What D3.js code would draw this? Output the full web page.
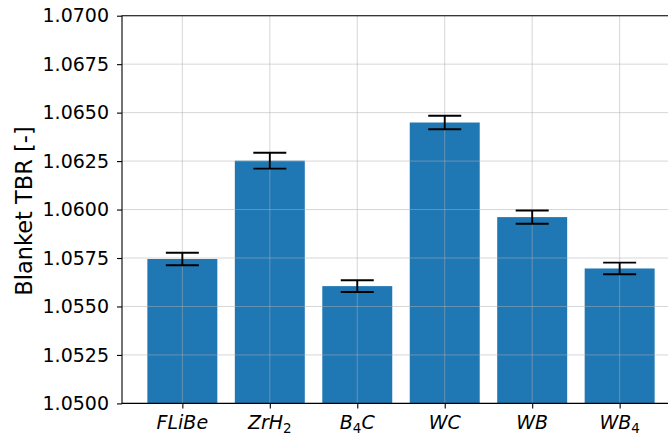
<!DOCTYPE html>
<html>
<head>
<meta charset="utf-8">
<script src="https://cdn.jsdelivr.net/npm/d3@7"></script>
<style>
  body { margin: 0; background: #fff; }
  text { font-family: "DejaVu Sans", sans-serif; fill: #000; }
</style>
</head>
<body>
<svg id="chart" width="668" height="437"></svg>
<script>
// materials, label parts (base + subscript) and TBR values
const materials = ["FLiBe", "ZrH2", "B4C", "WC", "WB", "WB4"];
const labelParts = [
    [["FLiBe", false]],
    [["ZrH", false], ["2", true]],
    [["B", false], ["4", true], ["C", false]],
    [["WC", false]],
    [["WB", false]],
    [["WB", false], ["4", true]]
];
const tbr = [1.05745, 1.06252, 1.05605, 1.06449, 1.05961, 1.05696];
const tbrErr = [0.00032, 0.00041, 0.00030, 0.00035, 0.00034, 0.00030];
const yTicks = [1.05, 1.0525, 1.055, 1.0575, 1.06, 1.0625, 1.065, 1.0675, 1.07];

const svg = d3.select("#chart");
const plotL = 122, plotR = 680, plotT = 15.7, plotB = 403.4;

const x = d3.scalePoint()
    .domain(materials)
    .range([plotL, plotR])
    .padding(0.69);
const barW = x.step() * 0.8;

const y = d3.scaleLinear()
    .domain([1.05, 1.07])
    .range([plotB, plotT]);

// Bars
svg.append("g")
    .selectAll("rect")
    .data(materials)
    .join("rect")
    .attr("x", d => x(d) - barW / 2)
    .attr("width", barW)
    .attr("y", (d, i) => y(tbr[i]))
    .attr("height", (d, i) => plotB - y(tbr[i]))
    .attr("fill", "#1f77b4");

// Grid (on top of bars, like matplotlib)
const grid = svg.append("g")
    .attr("stroke", "#b0b0b0")
    .attr("stroke-opacity", 0.5)
    .attr("stroke-width", 1);
grid.selectAll(".hg")
    .data(yTicks)
    .join("line")
    .attr("x1", plotL).attr("x2", plotR)
    .attr("y1", d => y(d)).attr("y2", d => y(d));
grid.selectAll(".vg")
    .data(materials)
    .join("line")
    .attr("x1", d => x(d)).attr("x2", d => x(d))
    .attr("y1", plotT).attr("y2", plotB);

// Error bars
const capW = 16.5;
const eb = svg.append("g")
    .attr("stroke", "#000")
    .attr("stroke-width", 1.9)
    .selectAll("g")
    .data(materials)
    .join("g");
eb.append("line")
    .attr("x1", d => x(d)).attr("x2", d => x(d))
    .attr("y1", (d, i) => y(tbr[i] - tbrErr[i]))
    .attr("y2", (d, i) => y(tbr[i] + tbrErr[i]));
eb.append("line")
    .attr("x1", d => x(d) - capW).attr("x2", d => x(d) + capW)
    .attr("y1", (d, i) => y(tbr[i] + tbrErr[i]))
    .attr("y2", (d, i) => y(tbr[i] + tbrErr[i]));
eb.append("line")
    .attr("x1", d => x(d) - capW).attr("x2", d => x(d) + capW)
    .attr("y1", (d, i) => y(tbr[i] - tbrErr[i]))
    .attr("y2", (d, i) => y(tbr[i] - tbrErr[i]));

// Axes
const yAxis = svg.append("g")
    .attr("transform", `translate(${plotL},0)`)
    .call(d3.axisLeft(y).tickValues(yTicks).tickFormat(d3.format(".4f")).tickSize(5).tickPadding(8));
yAxis.selectAll("text").attr("font-size", 19).style("font-family", "DejaVu Sans");

const xAxis = svg.append("g")
    .attr("transform", `translate(0,${plotB})`)
    .call(d3.axisBottom(x).tickSize(5).tickFormat(""));
[yAxis, xAxis].forEach(a => {
    a.select(".domain").remove();
    a.selectAll("line").attr("stroke", "#000").attr("stroke-width", 1.1);
});

// x tick labels with subscripts
const xl = svg.append("g")
    .selectAll("text")
    .data(materials)
    .join("text")
    .attr("x", d => x(d))
    .attr("y", 429)
    .attr("text-anchor", "middle")
    .attr("font-size", 19)
    .attr("font-style", "italic");
xl.each(function(d, i) {
    const t = d3.select(this);
    labelParts[i].forEach(([s, sub]) => {
        const ts = t.append("tspan").text(s);
        if (sub) ts.attr("font-size", 13.5).attr("font-style", "normal").attr("dy", 4);
        else if (t.selectAll("tspan").size() > 1) ts.attr("dy", -4);
    });
});

// spines
svg.append("path")
    .attr("d", `M${plotR},${plotT}H${plotL}V${plotB}H${plotR}`)
    .attr("fill", "none")
    .attr("stroke", "#000")
    .attr("stroke-width", 1.1);

// y label
svg.append("text")
    .attr("transform", "translate(32,211) rotate(-90)")
    .attr("text-anchor", "middle")
    .attr("font-size", 22.5)
    .text("Blanket TBR [-]");
</script>
</body>
</html>
